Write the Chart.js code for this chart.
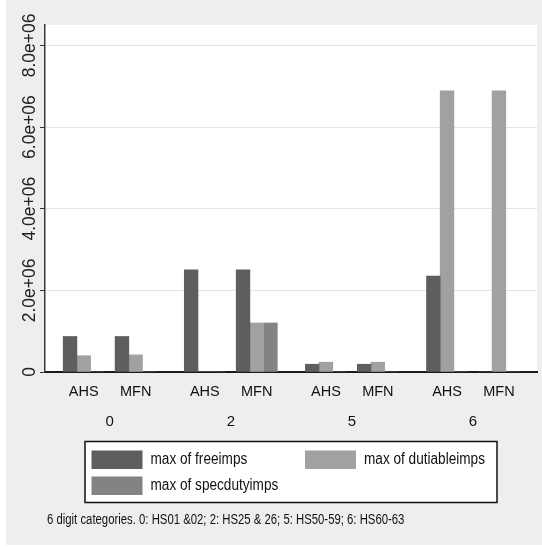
<!DOCTYPE html>
<html>
<head>
<meta charset="utf-8">
<script src="https://cdn.jsdelivr.net/npm/chart.js@4.4.1/dist/chart.umd.min.js"></script>
<style>
  html, body { margin: 0; padding: 0; background: #ffffff; }
  #wrap { position: absolute; left: 6px; top: 0; width: 536px; height: 545px; background: #eeeeee; }
</style>
</head>
<body>
<div id="wrap"><canvas id="bars"></canvas></div>
<script>
// categories
const groups = ['0', '2', '5', '6'];
const subLabels = ['AHS', 'MFN'];
const seriesNames = ['max of freeimps', 'max of dutiableimps', 'max of specdutyimps'];
const seriesColors = ['#5e5e5e', '#a1a1a1', '#838383'];

// values, order: AHS 0, MFN 0, AHS 2, MFN 2, AHS 5, MFN 5, AHS 6, MFN 6
const freeimps = [870000, 870000, 2500000, 2500000, 190000, 190000, 2350000, 0];
const dutiableimps = [400000, 420000, 0, 1200000, 240000, 240000, 6890000, 6890000];
const specdutyimps = [0, 0, 0, 1200000, 0, 0, 0, 0];

// y axis
const yTicks = [0, 2000000, 4000000, 6000000, 8000000];
const yTickLabels = ['0', '2.0e+06', '4.0e+06', '6.0e+06', '8.0e+06'];

const footNote = '6 digit categories. 0: HS01 &02; 2: HS25 & 26; 5: HS50-59; 6: HS60-63';

const sans = "'Liberation Sans', Arial, sans-serif";

// slot on the x scale: groups are 7 units apart, AHS/MFN 3 units apart
const slot = (i, j) => i * 7 + j * 3;
const subPos = [];
const groupPos = [];
groups.forEach((g, i) => {
    subLabels.forEach((s, j) => subPos.push(slot(i, j)));
    groupPos.push(slot(i, 0) + 1.5);
});

const toPoints = vals => vals.map((v, k) => ({ x: subPos[k], y: v }));
const allSeries = [freeimps, dutiableimps, specdutyimps];

// texte un peu condensé, comme la police de Stata
function narrowText(ctx, txt, x, y, squeeze) {
    ctx.save();
    ctx.translate(x, y);
    ctx.scale(squeeze, 1);
    ctx.fillText(txt, 0, 0);
    ctx.restore();
}

// fond blanc de la zone de tracé + étiquettes Y tournées + légende encadrée + note
const stataLook = {
    id: 'stataLook',
    beforeDraw(chart) {
        const { ctx, chartArea: a } = chart;
        ctx.save();
        ctx.fillStyle = '#ffffff';
        ctx.fillRect(a.left, a.top, a.right - a.left, a.bottom - a.top);
        ctx.restore();
    },
    afterDraw(chart) {
        const ctx = chart.ctx;
        const y = chart.scales.y;

        ctx.save();
        ctx.fillStyle = '#222222';
        ctx.font = '17.5px ' + sans;
        ctx.textAlign = 'center';
        ctx.textBaseline = 'alphabetic';
        yTicks.forEach((v, i) => {
            ctx.save();
            ctx.translate(29, y.getPixelForValue(v));
            ctx.rotate(-Math.PI / 2);
            ctx.fillText(yTickLabels[i], 0, 0);
            ctx.restore();
        });

        // legend box
        const lx = 79, ly = 441.5, lw = 412, lh = 61;
        ctx.fillStyle = '#ffffff';
        ctx.fillRect(lx, ly, lw, lh);
        ctx.strokeStyle = '#111111';
        ctx.lineWidth = 1.5;
        ctx.strokeRect(lx, ly, lw, lh);

        const cells = [[lx + 6.5, ly + 9], [lx + 220, ly + 9], [lx + 6.5, ly + 35]];
        ctx.font = '16px ' + sans;
        ctx.textAlign = 'left';
        ctx.textBaseline = 'middle';
        chart.data.datasets.forEach((ds, i) => {
            const [cx, cy] = cells[i];
            ctx.fillStyle = ds.backgroundColor;
            ctx.fillRect(cx, cy, 51, 18.5);
            ctx.fillStyle = '#111111';
            narrowText(ctx, ds.label, cx + 59, cy + 9.5, 0.85);
        });

        ctx.font = '14px ' + sans;
        ctx.fillStyle = '#111111';
        narrowText(ctx, footNote, 41, 520, 0.81);
        ctx.restore();
    }
};

new Chart(document.getElementById('bars'), {
    type: 'bar',
    data: {
        datasets: allSeries.map((vals, i) => ({
            label: seriesNames[i],
            data: toPoints(vals),
            backgroundColor: seriesColors[i],
            borderWidth: 0,
            barThickness: 13.7
        }))
    },
    options: {
        responsive: true,
        maintainAspectRatio: false,
        animation: false,
        layout: { padding: { top: 25, right: 5, bottom: 103, left: 0 } },
        plugins: { legend: { display: false }, tooltip: { enabled: false } },
        scales: {
            x: {
                type: 'linear',
                position: 'bottom',
                offset: false,
                min: -2.24,
                max: 26.2,
                bounds: 'data',
                grid: { display: false, drawTicks: false },
                border: { display: true, color: '#1a1a1a', width: 2 },
                afterBuildTicks: s => { s.ticks = subPos.map(v => ({ value: v })); },
                afterFit: s => { s.height = 30; },
                ticks: {
                    autoSkip: false, maxRotation: 0, padding: 11,
                    color: '#111111',
                    font: { family: sans, size: 14.5 },
                    callback: (v, i) => subLabels[i % subLabels.length]
                }
            },
            x2: {
                type: 'linear',
                position: 'bottom',
                offset: false,
                min: -2.24,
                max: 26.2,
                bounds: 'data',
                grid: { display: false, drawTicks: false },
                border: { display: false },
                afterBuildTicks: s => { s.ticks = groupPos.map(v => ({ value: v })); },
                afterFit: s => { s.height = 40; },
                ticks: {
                    autoSkip: false, maxRotation: 0, padding: 11,
                    color: '#111111',
                    font: { family: sans, size: 15 },
                    callback: (v, i) => groups[i]
                }
            },
            y: {
                min: 0,
                max: 8500000,
                bounds: 'data',
                afterBuildTicks: s => { s.ticks = yTicks.map(v => ({ value: v })); },
                afterFit: s => { s.width = 39; },
                grid: { color: '#e4e4e4', lineWidth: 1, tickColor: '#333333', tickLength: 5 },
                border: { display: true, color: '#3a3a3a', width: 1.5 },
                ticks: { display: false }
            }
        }
    },
    plugins: [stataLook]
});
</script>
</body>
</html>
